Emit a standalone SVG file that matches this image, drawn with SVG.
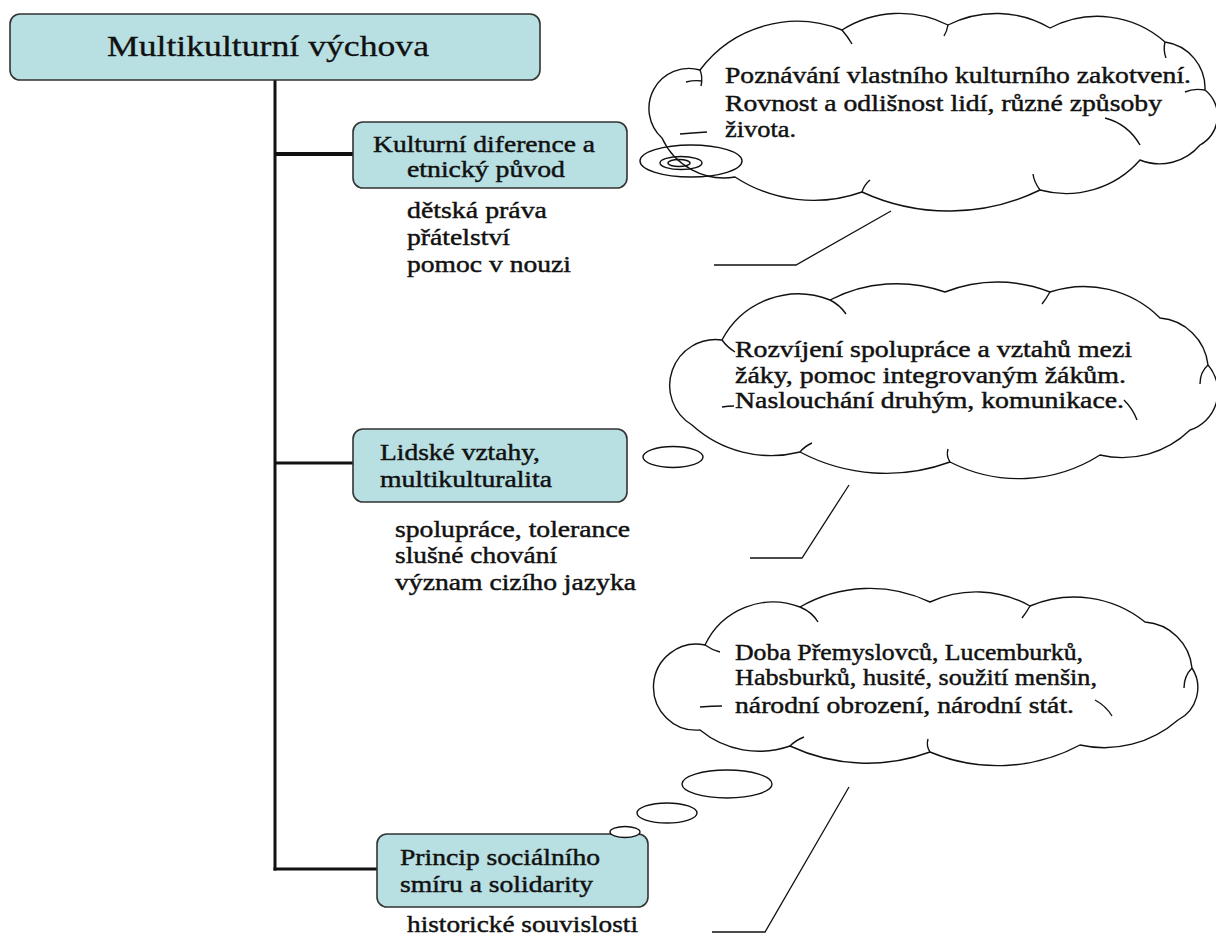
<svg xmlns="http://www.w3.org/2000/svg" width="1216" height="938" viewBox="0 0 1216 938">
<style>
  .box { fill: #b8dfe2; stroke: #333333; stroke-width: 1.6; }
  .t { font-family: "Liberation Serif", "Times New Roman", serif; fill: #111111; }
  .title { font-size: 29px; stroke: #111111; stroke-width: 0.3; }
  .lbl { font-size: 23.5px; stroke: #111111; stroke-width: 0.45; }
  .cloud { fill: #ffffff; stroke: #111111; stroke-width: 1.4; stroke-linejoin: round; }
  .tick { fill: none; stroke: #111111; stroke-width: 1.4; }
  .bub { fill: none; stroke: #111111; stroke-width: 1.4; }
  .bubw { fill: #ffffff; stroke: #111111; stroke-width: 1.4; }
  .conn { fill: none; stroke: #111111; stroke-width: 3; }
  .call { fill: none; stroke: #111111; stroke-width: 1.3; }
</style>
<rect width="1216" height="938" fill="#ffffff"/>

<g id="connectors">
  <line class="conn" x1="275" y1="80" x2="275" y2="870.5"/>
  <line class="conn" x1="275" y1="154" x2="353" y2="154" style="stroke-width:4"/>
  <line class="conn" x1="275" y1="463" x2="353" y2="463"/>
  <line class="conn" x1="273.5" y1="869" x2="377" y2="869"/>
  <polyline class="call" points="891,211 796,265 714,265"/>
  <polyline class="call" points="849,485 802,558 750,558"/>
  <polyline class="call" points="849,787 765,932 712,932"/>
</g>

<g id="root">
  <rect class="box" x="10" y="14" width="530" height="66" rx="10"/>
  <text class="t title" x="107" y="56" textLength="322" lengthAdjust="spacingAndGlyphs">Multikulturní výchova</text>
</g>

<g id="node1">
  <rect class="box" x="353" y="122" width="274" height="66" rx="10"/>
  <text class="t lbl" x="373" y="152" textLength="222" lengthAdjust="spacingAndGlyphs">Kulturní diference a</text>
  <text class="t lbl" x="407" y="177" textLength="158" lengthAdjust="spacingAndGlyphs">etnický původ</text>
</g>
<g id="list1">
  <text class="t lbl" x="407" y="218" textLength="140" lengthAdjust="spacingAndGlyphs">dětská práva</text>
  <text class="t lbl" x="407" y="245" textLength="103" lengthAdjust="spacingAndGlyphs">přátelství</text>
  <text class="t lbl" x="407" y="272" textLength="164" lengthAdjust="spacingAndGlyphs">pomoc v nouzi</text>
</g>

<g id="cloud1">
  <path class="cloud" d="M 662,138 A 40 40 0 0 1 700,70 A 121 121 0 0 1 842,30 A 107.5 107.5 0 0 1 948,25 A 106.5 106.5 0 0 1 1050,28 A 102 102 0 0 1 1165,42 A 46.7 46.7 0 0 1 1205,90 A 33 33 0 0 1 1200,145 A 52.7 52.7 0 0 1 1140,160 A 98.3 98.3 0 0 1 1040,190 A 208 208 0 0 1 862,192 A 143.8 143.8 0 0 1 735,177 A 68.2 68.2 0 0 1 662,138 Z"/>
  <path class="tick" d="M 700,70 Q 703,77 701,86"/>
  <path class="tick" d="M 686,82 Q 694,80 702,81"/>
  <path class="tick" d="M 842,30 Q 848,37 852,44"/>
  <path class="tick" d="M 948,25 Q 947,31 944,36"/>
  <path class="tick" d="M 1165,42 Q 1163,50 1166,58"/>
  <path class="tick" d="M 1205,90 Q 1193,88 1185,92"/>
  <path class="tick" d="M 1105,118 Q 1128,124 1140,145"/>
  <path class="tick" d="M 1040,190 Q 1034,182 1033,174"/>
  <path class="tick" d="M 862,192 Q 864,185 870,180"/>
  <path class="tick" d="M 680,134 Q 692,133 707,132"/>
  <text class="t lbl" x="725" y="83" textLength="466" lengthAdjust="spacingAndGlyphs">Poznávání vlastního kulturního zakotvení.</text>
  <text class="t lbl" x="725" y="111" textLength="437" lengthAdjust="spacingAndGlyphs">Rovnost a odlišnost lidí, různé způsoby</text>
  <text class="t lbl" x="725" y="137" textLength="71" lengthAdjust="spacingAndGlyphs">života.</text>
  <ellipse class="bub" cx="691" cy="161" rx="51" ry="16"/>
  <ellipse class="bub" cx="681" cy="163" rx="21" ry="6.5"/>
  <ellipse class="bub" cx="679" cy="163" rx="11" ry="3.5"/>
</g>

<g id="node2">
  <rect class="box" x="353" y="429" width="274" height="73" rx="10"/>
  <text class="t lbl" x="380" y="460" textLength="160" lengthAdjust="spacingAndGlyphs">Lidské vztahy,</text>
  <text class="t lbl" x="380" y="487" textLength="172" lengthAdjust="spacingAndGlyphs">multikulturalita</text>
</g>
<g id="list2">
  <text class="t lbl" x="395" y="537" textLength="235" lengthAdjust="spacingAndGlyphs">spolupráce, tolerance</text>
  <text class="t lbl" x="395" y="563" textLength="162" lengthAdjust="spacingAndGlyphs">slušné chování</text>
  <text class="t lbl" x="395" y="590" textLength="241" lengthAdjust="spacingAndGlyphs">význam cizího jazyka</text>
</g>

<g id="cloud2">
  <path class="cloud" d="M 692,425 A 46 46 0 0 1 722,340 A 86 86 0 0 1 830,300 A 144.5 144.5 0 0 1 945,292 A 142.8 142.8 0 0 1 1050,292 A 107.8 107.8 0 0 1 1160,318 A 52.8 52.8 0 0 1 1208,365 A 40.5 40.5 0 0 1 1190,430 A 96.9 96.9 0 0 1 1100,455 A 151 151 0 0 1 950,462 A 184.5 184.5 0 0 1 800,452 A 117.6 117.6 0 0 1 692,425 Z"/>
  <path class="tick" d="M 722,340 Q 727,347 735,352"/>
  <path class="tick" d="M 830,300 Q 840,305 846,314"/>
  <path class="tick" d="M 1050,292 Q 1046,299 1042,304"/>
  <path class="tick" d="M 1208,365 Q 1200,372 1200,384"/>
  <path class="tick" d="M 1124,400 Q 1133,409 1137,420"/>
  <path class="tick" d="M 950,462 Q 946,456 948,449"/>
  <path class="tick" d="M 800,452 Q 805,446 812,443"/>
  <path class="tick" d="M 722,407 Q 728,406 734,406"/>
  <text class="t lbl" x="735" y="357" textLength="397" lengthAdjust="spacingAndGlyphs">Rozvíjení spolupráce a vztahů mezi</text>
  <text class="t lbl" x="735" y="383" textLength="391" lengthAdjust="spacingAndGlyphs">žáky, pomoc integrovaným žákům.</text>
  <text class="t lbl" x="735" y="408" textLength="389" lengthAdjust="spacingAndGlyphs">Naslouchání druhým, komunikace.</text>
  <ellipse class="bub" cx="673" cy="457" rx="30" ry="10.5"/>
</g>

<g id="node3">
  <rect class="box" x="377" y="834" width="271" height="73" rx="10"/>
  <text class="t lbl" x="400" y="865" textLength="200" lengthAdjust="spacingAndGlyphs">Princip sociálního</text>
  <text class="t lbl" x="400" y="892" textLength="193" lengthAdjust="spacingAndGlyphs">smíru a solidarity</text>
</g>
<g id="list3">
  <text class="t lbl" x="407" y="932" textLength="231" lengthAdjust="spacingAndGlyphs">historické souvislosti</text>
</g>

<g id="cloud3">
  <path class="cloud" d="M 700,730 A 43 43 0 1 1 705,645 A 75.4 75.4 0 0 1 800,607 A 140 140 0 0 1 930,602 A 110 110 0 0 1 1030,606 A 113 113 0 0 1 1145,622 A 51 51 0 0 1 1192,668 A 36.3 36.3 0 0 1 1178,720 A 112 112 0 0 1 1080,745 A 174.4 174.4 0 0 1 930,752 A 182 182 0 0 1 790,746 A 93 93 0 0 1 700,730 Z"/>
  <path class="tick" d="M 705,645 Q 712,650 720,652"/>
  <path class="tick" d="M 800,607 Q 812,612 818,622"/>
  <path class="tick" d="M 1030,606 Q 1026,613 1022,618"/>
  <path class="tick" d="M 1192,668 Q 1184,676 1184,688"/>
  <path class="tick" d="M 1095,700 Q 1106,706 1112,716"/>
  <path class="tick" d="M 930,752 Q 926,746 928,739"/>
  <path class="tick" d="M 790,746 Q 796,740 804,737"/>
  <path class="tick" d="M 700,707 Q 712,706 722,706"/>
  <text class="t lbl" x="735" y="660" textLength="348" lengthAdjust="spacingAndGlyphs">Doba Přemyslovců, Lucemburků,</text>
  <text class="t lbl" x="735" y="685" textLength="362" lengthAdjust="spacingAndGlyphs">Habsburků, husité, soužití menšin,</text>
  <text class="t lbl" x="735" y="713" textLength="339" lengthAdjust="spacingAndGlyphs">národní obrození, národní stát.</text>
  <ellipse class="bub" cx="727" cy="784" rx="45" ry="14"/>
  <ellipse class="bub" cx="667" cy="813" rx="30" ry="10"/>
  <ellipse class="bubw" cx="625" cy="832" rx="15" ry="5.5"/>
</g>
</svg>
